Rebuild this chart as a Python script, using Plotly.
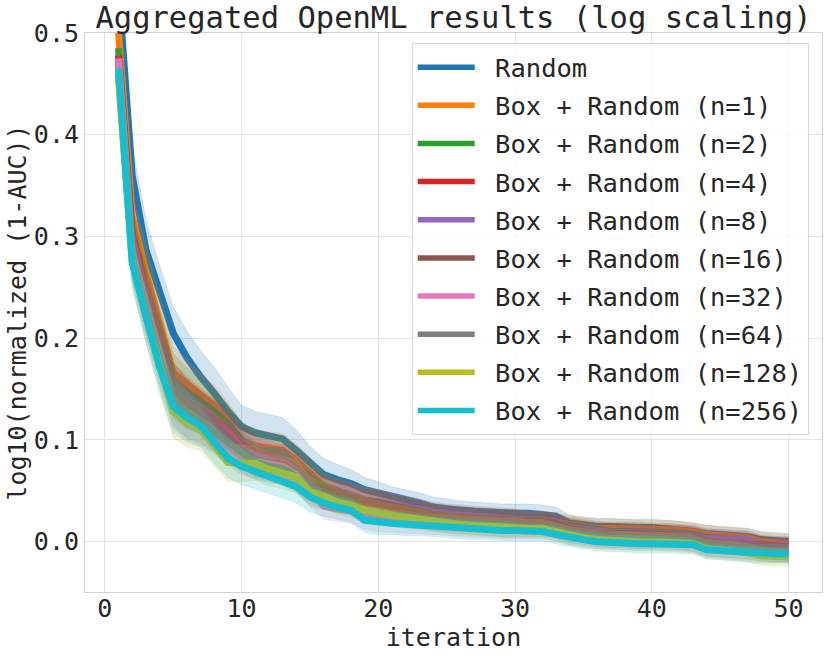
import plotly.graph_objects as go

iterations = list(range(1, 51))

random_mean = [
    0.545, 0.360, 0.287, 0.244, 0.205, 0.181, 0.162, 0.146, 0.128, 0.113,
    0.107, 0.104, 0.101, 0.090, 0.077, 0.066, 0.061, 0.057, 0.051, 0.048,
    0.044, 0.041, 0.038, 0.034, 0.032, 0.031, 0.030, 0.029, 0.028, 0.028,
    0.028, 0.027, 0.025, 0.018, 0.016, 0.015, 0.015, 0.014, 0.014, 0.014,
    0.013, 0.012, 0.010, 0.008, 0.007, 0.006, 0.005, 0.002, 0.001, 0.000,
]
box_n1 = [
    0.500, 0.320, 0.265, 0.215, 0.166, 0.155, 0.145, 0.134, 0.118, 0.099,
    0.094, 0.092, 0.090, 0.080, 0.068, 0.055, 0.050, 0.046, 0.041, 0.039,
    0.036, 0.033, 0.031, 0.028, 0.026, 0.025, 0.024, 0.023, 0.022, 0.022,
    0.021, 0.021, 0.019, 0.017, 0.015, 0.013, 0.013, 0.013, 0.012, 0.012,
    0.012, 0.011, 0.010, 0.007, 0.006, 0.005, 0.004, 0.000, -0.001, -0.002,
]
box_n2 = [
    0.485, 0.305, 0.250, 0.205, 0.159, 0.147, 0.138, 0.128, 0.116, 0.100,
    0.091, 0.089, 0.087, 0.075, 0.063, 0.054, 0.049, 0.045, 0.040, 0.038,
    0.035, 0.032, 0.030, 0.027, 0.025, 0.024, 0.023, 0.022, 0.021, 0.021,
    0.020, 0.020, 0.018, 0.015, 0.013, 0.011, 0.010, 0.010, 0.010, 0.009,
    0.009, 0.008, 0.007, 0.004, 0.003, 0.002, 0.001, -0.003, -0.004, -0.005,
]
box_n4 = [
    0.478, 0.300, 0.245, 0.198, 0.150, 0.138, 0.130, 0.120, 0.110, 0.096,
    0.088, 0.084, 0.080, 0.072, 0.058, 0.050, 0.048, 0.044, 0.039, 0.037,
    0.034, 0.031, 0.029, 0.026, 0.024, 0.023, 0.022, 0.021, 0.020, 0.020,
    0.019, 0.019, 0.017, 0.013, 0.011, 0.009, 0.009, 0.008, 0.008, 0.008,
    0.007, 0.007, 0.006, 0.002, 0.001, 0.000, -0.001, -0.004, -0.005, -0.006,
]
box_n8 = [
    0.472, 0.296, 0.240, 0.195, 0.147, 0.135, 0.127, 0.117, 0.106, 0.092,
    0.085, 0.081, 0.079, 0.070, 0.057, 0.050, 0.050, 0.046, 0.041, 0.039,
    0.037, 0.034, 0.032, 0.029, 0.027, 0.026, 0.025, 0.024, 0.023, 0.022,
    0.021, 0.021, 0.019, 0.014, 0.012, 0.010, 0.009, 0.009, 0.009, 0.008,
    0.008, 0.007, 0.006, 0.003, 0.003, 0.002, 0.002, -0.003, -0.004, -0.004,
]
box_n16 = [
    0.470, 0.292, 0.240, 0.195, 0.150, 0.136, 0.127, 0.118, 0.105, 0.090,
    0.081, 0.077, 0.076, 0.068, 0.056, 0.052, 0.049, 0.045, 0.040, 0.038,
    0.035, 0.032, 0.030, 0.027, 0.025, 0.024, 0.023, 0.022, 0.021, 0.021,
    0.020, 0.020, 0.018, 0.013, 0.011, 0.008, 0.008, 0.008, 0.007, 0.007,
    0.007, 0.006, 0.005, 0.000, -0.001, -0.001, -0.002, -0.004, -0.005, -0.005,
]
box_n32 = [
    0.475, 0.285, 0.232, 0.186, 0.138, 0.124, 0.116, 0.106, 0.094, 0.084,
    0.079, 0.076, 0.074, 0.066, 0.050, 0.035, 0.032, 0.030, 0.024, 0.022,
    0.020, 0.019, 0.018, 0.017, 0.016, 0.015, 0.014, 0.014, 0.013, 0.013,
    0.012, 0.012, 0.009, 0.006, 0.004, 0.002, 0.002, 0.001, 0.001, 0.001,
    0.000, 0.000, -0.001, -0.006, -0.007, -0.008, -0.009, -0.010, -0.011, -0.011,
]
box_n64 = [
    0.460, 0.280, 0.228, 0.180, 0.140, 0.126, 0.118, 0.108, 0.098, 0.086,
    0.078, 0.074, 0.072, 0.064, 0.052, 0.045, 0.041, 0.038, 0.032, 0.029,
    0.027, 0.025, 0.023, 0.021, 0.019, 0.018, 0.017, 0.016, 0.015, 0.015,
    0.014, 0.014, 0.012, 0.008, 0.006, 0.004, 0.003, 0.003, 0.002, 0.002,
    0.002, 0.001, 0.000, -0.005, -0.006, -0.007, -0.008, -0.010, -0.011, -0.011,
]
box_n128 = [
    0.455, 0.276, 0.222, 0.176, 0.128, 0.117, 0.110, 0.094, 0.078, 0.077,
    0.077, 0.071, 0.068, 0.064, 0.049, 0.045, 0.039, 0.036, 0.031, 0.028,
    0.026, 0.024, 0.022, 0.020, 0.018, 0.017, 0.016, 0.015, 0.014, 0.014,
    0.013, 0.013, 0.010, 0.006, 0.004, 0.002, 0.001, 0.001, 0.000, 0.000,
    0.000, -0.001, -0.002, -0.007, -0.008, -0.009, -0.011, -0.014, -0.015, -0.015,
]
box_n256 = [
    0.465, 0.274, 0.222, 0.172, 0.133, 0.122, 0.114, 0.097, 0.082, 0.074,
    0.069, 0.063, 0.059, 0.054, 0.044, 0.038, 0.034, 0.031, 0.021, 0.019,
    0.018, 0.017, 0.016, 0.015, 0.014, 0.013, 0.012, 0.012, 0.011, 0.011,
    0.010, 0.010, 0.007, 0.004, 0.002, 0.000, -0.001, -0.001, -0.002, -0.002,
    -0.002, -0.003, -0.003, -0.008, -0.009, -0.010, -0.011, -0.012, -0.012, -0.012,
]

# half-width of the shaded band (Random has a wider one)
random_spread = [
    0.030, 0.030, 0.030, 0.028, 0.026, 0.026, 0.026, 0.026, 0.024, 0.021,
    0.021, 0.021, 0.021, 0.020, 0.017, 0.016, 0.015, 0.014, 0.012, 0.011,
    0.010, 0.010, 0.010, 0.010, 0.010, 0.009, 0.009, 0.009, 0.009, 0.009,
    0.009, 0.009, 0.009, 0.008, 0.008, 0.008, 0.008, 0.008, 0.008, 0.008,
    0.008, 0.008, 0.008, 0.008, 0.008, 0.008, 0.008, 0.008, 0.008, 0.008,
]
box_spread = [
    0.014, 0.024, 0.026, 0.026, 0.026, 0.024, 0.021, 0.020, 0.019, 0.018,
    0.017, 0.016, 0.016, 0.016, 0.015, 0.013, 0.012, 0.012, 0.012, 0.012,
    0.011, 0.011, 0.010, 0.010, 0.010, 0.010, 0.010, 0.010, 0.010, 0.010,
    0.009, 0.009, 0.009, 0.009, 0.009, 0.009, 0.009, 0.009, 0.009, 0.009,
    0.009, 0.009, 0.009, 0.009, 0.009, 0.009, 0.009, 0.009, 0.009, 0.009,
]

series_names = [
    "Random",
    "Box + Random (n=1)",
    "Box + Random (n=2)",
    "Box + Random (n=4)",
    "Box + Random (n=8)",
    "Box + Random (n=16)",
    "Box + Random (n=32)",
    "Box + Random (n=64)",
    "Box + Random (n=128)",
    "Box + Random (n=256)",
]
series_values = [random_mean, box_n1, box_n2, box_n4, box_n8,
                 box_n16, box_n32, box_n64, box_n128, box_n256]
series_spread = [random_spread] + [box_spread] * 9

# matplotlib tab10
colors = ["#1f77b4", "#ff7f0e", "#2ca02c", "#d62728", "#9467bd",
          "#8c564b", "#e377c2", "#7f7f7f", "#bcbd22", "#17becf"]

FONT = "DejaVu Sans Mono"
TXT = "#262626"


def rgba(hexcol: str, a: float) -> str:
    h = hexcol.lstrip("#")
    r, g, b = int(h[0:2], 16), int(h[2:4], 16), int(h[4:6], 16)
    return f"rgba({r},{g},{b},{a})"


fig = go.Figure()

for name, ys, sp, col in zip(series_names, series_values, series_spread, colors):
    hi = [y + s for y, s in zip(ys, sp)]
    lo = [y - s for y, s in zip(ys, sp)]
    fig.add_trace(go.Scatter(
        x=iterations, y=ys, mode="lines", name=name,
        line=dict(color=col, width=7),
        showlegend=False, legendgroup=name,
    ))
    fig.add_trace(go.Scatter(
        x=iterations + iterations[::-1],
        y=hi + lo[::-1],
        fill="toself",
        fillcolor=rgba(col, 0.2),
        line=dict(width=0.6, color=rgba(col, 0.25)),
        hoverinfo="skip",
        showlegend=False,
        legendgroup=name,
    ))
    # legend-only entry with the thinner sample line seen in the legend
    fig.add_trace(go.Scatter(
        x=[None], y=[None], mode="lines",
        name="\u00a0" + name,  # small gap between legend sample and text
        line=dict(color=col, width=5.5),
        legendgroup=name,
    ))

axis_common = dict(
    showgrid=True, gridcolor="#e3e3e3", gridwidth=1,
    showline=True, linecolor="#d2d2d2", linewidth=1, mirror=True,
    zeroline=False, ticks="", color=TXT, automargin=False,
    tickfont=dict(family=FONT, size=25, color=TXT),
)

fig.update_layout(
    width=830, height=656,
    margin=dict(l=85, r=8, t=33, b=64),
    paper_bgcolor="white", plot_bgcolor="white",
    font=dict(family=FONT, color=TXT),
    title=dict(
        text="Aggregated OpenML results (log scaling)",
        font=dict(family=FONT, size=30.5, color=TXT),
        x=0.5, xanchor="center", xref="paper",
        y=0.974, yanchor="middle", yref="container",
    ),
    xaxis=dict(
        range=[-1.45, 52.45], tickvals=[0, 10, 20, 30, 40, 50],
        ticklabelstandoff=-6,
        title=dict(text="iteration", font=dict(family=FONT, size=25, color=TXT), standoff=0),
        **axis_common,
    ),
    yaxis=dict(
        range=[-0.0495, 0.5], tickvals=[0.0, 0.1, 0.2, 0.3, 0.4, 0.5],
        tickformat=".1f", ticklabelstandoff=0,
        title=dict(text="log10(normalized (1-AUC))", font=dict(family=FONT, size=25, color=TXT), standoff=0),
        **axis_common,
    ),
    legend=dict(
        x=0.982, y=0.982, xanchor="right", yanchor="top",
        bgcolor="rgba(255,255,255,0.8)", bordercolor="#d8d8d8", borderwidth=1,
        font=dict(family=FONT, size=25.5, color=TXT),
        itemwidth=57, traceorder="grouped", tracegroupgap=2,
    ),
    showlegend=True,
)

fig.write_html("out.html", config={"displayModeBar": False},
               post_script="document.body.style.margin='0';")
